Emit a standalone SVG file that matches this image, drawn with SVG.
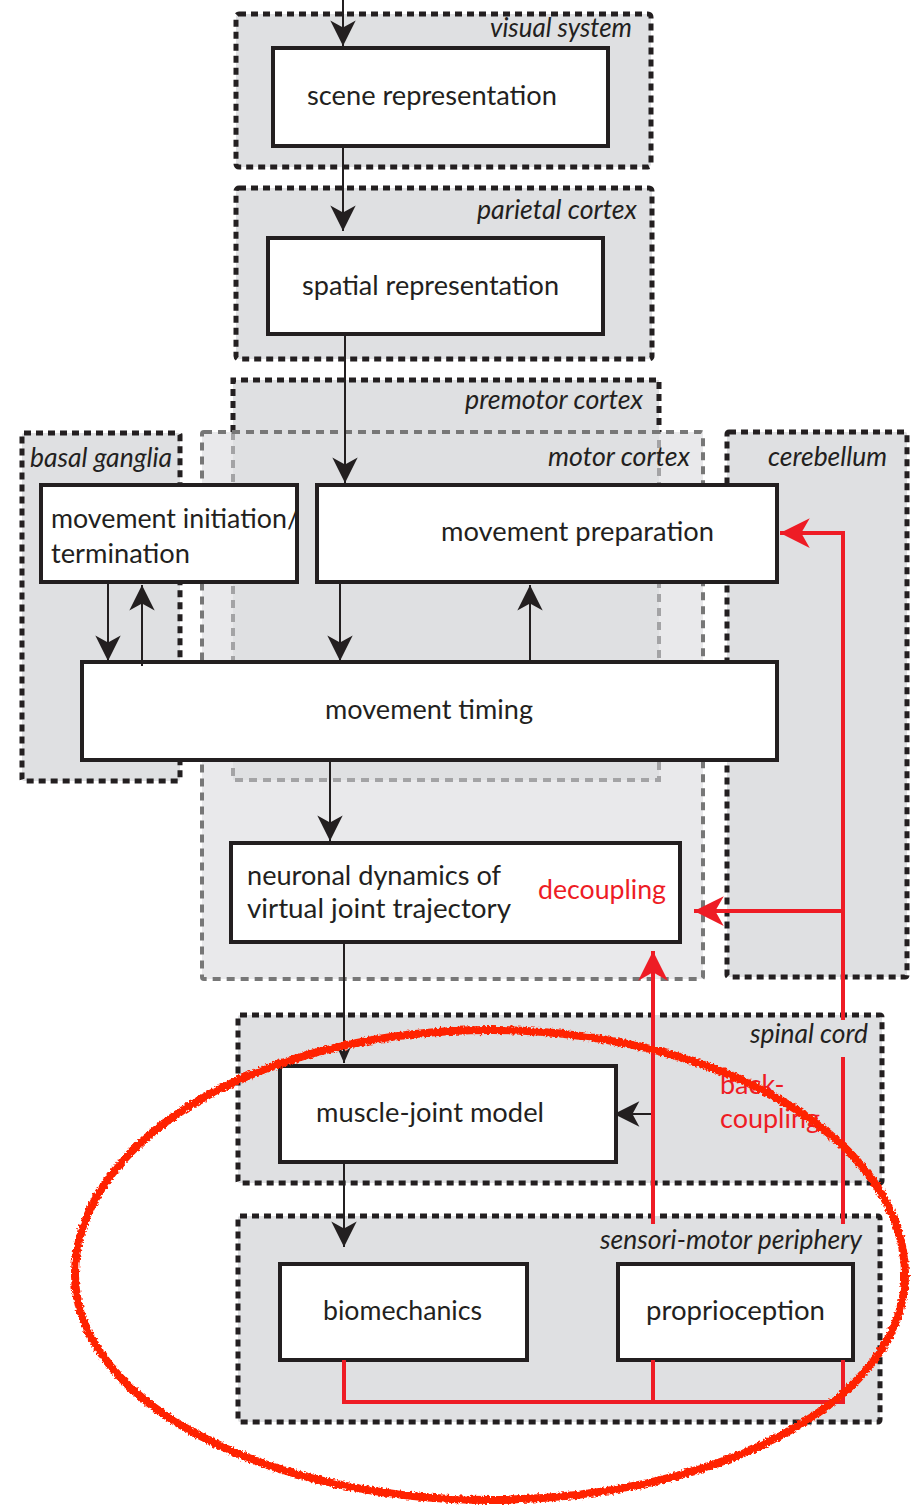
<svg xmlns="http://www.w3.org/2000/svg" width="916" height="1505" viewBox="0 0 916 1505">
<style>
.region{fill:#dfe0e2;stroke:#231f20;stroke-width:5;stroke-dasharray:7 5}
.node{fill:#fff;stroke:#231f20;stroke-width:4}
.t{font-family:Lato,"Liberation Sans",sans-serif;font-size:27px;fill:#231f20}
.lbl{font-family:Lato,"Liberation Sans",sans-serif;font-size:27px;font-style:italic;fill:#231f20}
.red{fill:#ee1c25}
.blk{stroke:#231f20;stroke-width:2;fill:none}
.rl{stroke:#ee1c25;stroke-width:4;fill:none}
</style>
<defs>
<marker id="ab" markerUnits="userSpaceOnUse" markerWidth="30" markerHeight="30" viewBox="-24 -12 26 24" refX="0" refY="0" orient="auto">
<path d="M0,0 L-22,-11 L-16,0 L-22,11 Z" fill="#231f20"/>
</marker>
<marker id="abs" markerUnits="userSpaceOnUse" markerWidth="20" markerHeight="20" viewBox="-16 -8 18 16" refX="0" refY="0" orient="auto">
<path d="M0,0 L-14,-6 L-10,0 L-14,6 Z" fill="#231f20"/>
</marker>
<marker id="ar" markerUnits="userSpaceOnUse" markerWidth="34" markerHeight="34" viewBox="-30 -15 32 30" refX="0" refY="0" orient="auto">
<path d="M0,0 L-28,-14 L-20,0 L-28,14 Z" fill="#ee1c25"/>
</marker>
<filter id="rough" x="-5%" y="-5%" width="110%" height="110%">
<feTurbulence type="fractalNoise" baseFrequency="0.4" numOctaves="2" seed="3" result="n"/>
<feDisplacementMap in="SourceGraphic" in2="n" scale="5" xChannelSelector="R" yChannelSelector="G"/>
</filter>
</defs>

<g id="regions">
<g id="visual-system">
<rect class="region" x="236" y="14" width="415" height="153" rx="3"/>
<text class="lbl" x="632" y="37" text-anchor="end" textLength="142" lengthAdjust="spacingAndGlyphs">visual system</text>
</g>
<g id="parietal-cortex">
<rect class="region" x="236" y="188" width="416" height="171" rx="3"/>
<text class="lbl" x="637" y="219" text-anchor="end" textLength="160" lengthAdjust="spacingAndGlyphs">parietal cortex</text>
</g>
<g id="motor-cortex">
<rect x="202" y="432" width="501" height="547" fill="#e9e9eb"/>
</g>
<g id="premotor-cortex">
<rect x="233" y="380" width="426" height="400" fill="#dfe0e2"/>
<path d="M233,432 V380 H659 V432" fill="none" stroke="#231f20" stroke-width="5" stroke-dasharray="7 5"/>
<path d="M233,432 V780 H659 V432" fill="none" stroke="#a3a3a5" stroke-width="4" stroke-dasharray="8 6"/>
<text class="lbl" x="643" y="409" text-anchor="end" textLength="178" lengthAdjust="spacingAndGlyphs">premotor cortex</text>
</g>
<g id="motor-cortex-outline">
<rect x="202" y="432" width="501" height="547" fill="none" stroke="#777" stroke-width="4" stroke-dasharray="8 6" rx="2"/>
<text class="lbl" x="690" y="466" text-anchor="end" textLength="142" lengthAdjust="spacingAndGlyphs">motor cortex</text>
</g>
<g id="basal-ganglia">
<rect class="region" x="22" y="433" width="158" height="348" rx="2"/>
<text class="lbl" x="30" y="467" textLength="142" lengthAdjust="spacingAndGlyphs">basal ganglia</text>
</g>
<g id="cerebellum">
<rect class="region" x="727" y="432" width="180" height="545" rx="2"/>
<text class="lbl" x="887" y="466" text-anchor="end" textLength="119" lengthAdjust="spacingAndGlyphs">cerebellum</text>
</g>
<g id="spinal-cord">
<rect class="region" x="238" y="1015" width="644" height="168" rx="2"/>
<text class="lbl" x="868" y="1043" text-anchor="end" textLength="118" lengthAdjust="spacingAndGlyphs">spinal cord</text>
</g>
<g id="sensori-motor-periphery">
<rect class="region" x="238" y="1216" width="642" height="206" rx="2"/>
<text class="lbl" x="862" y="1249" text-anchor="end" textLength="262" lengthAdjust="spacingAndGlyphs">sensori-motor periphery</text>
</g>
</g>

<g id="nodes">
<g id="scene-representation">
<rect class="node" x="273" y="48" width="335" height="98"/>
<text class="t" x="307" y="105" textLength="250" lengthAdjust="spacingAndGlyphs">scene representation</text>
</g>
<g id="spatial-representation">
<rect class="node" x="268" y="238" width="335" height="96"/>
<text class="t" x="302" y="295" textLength="257" lengthAdjust="spacingAndGlyphs">spatial representation</text>
</g>
<g id="movement-initiation">
<rect class="node" x="41" y="485" width="256" height="97"/>
<text class="t" x="51" y="528" textLength="248" lengthAdjust="spacingAndGlyphs">movement initiation/</text>
<text class="t" x="51" y="563" textLength="139" lengthAdjust="spacingAndGlyphs">termination</text>
</g>
<g id="movement-preparation">
<rect class="node" x="317" y="485" width="460" height="97"/>
<text class="t" x="441" y="541" textLength="273" lengthAdjust="spacingAndGlyphs">movement preparation</text>
</g>
<g id="movement-timing">
<rect class="node" x="82" y="662" width="695" height="98"/>
<text class="t" x="325" y="719" textLength="208" lengthAdjust="spacingAndGlyphs">movement timing</text>
</g>
<g id="neuronal-dynamics">
<rect class="node" x="231" y="843" width="449" height="99"/>
<text class="t" x="247" y="885" textLength="254" lengthAdjust="spacingAndGlyphs">neuronal dynamics of</text>
<text class="t" x="247" y="918" textLength="264" lengthAdjust="spacingAndGlyphs">virtual joint trajectory</text>
<text class="t red" x="538" y="899" textLength="128" lengthAdjust="spacingAndGlyphs">decoupling</text>
</g>
<g id="muscle-joint-model">
<rect class="node" x="280" y="1066" width="336" height="96"/>
<text class="t" x="316" y="1122" textLength="228" lengthAdjust="spacingAndGlyphs">muscle-joint model</text>
</g>
<g id="biomechanics">
<rect class="node" x="280" y="1264" width="247" height="96"/>
<text class="t" x="323" y="1320" textLength="159" lengthAdjust="spacingAndGlyphs">biomechanics</text>
</g>
<g id="proprioception">
<rect class="node" x="618" y="1264" width="235" height="96"/>
<text class="t" x="646" y="1320" textLength="179" lengthAdjust="spacingAndGlyphs">proprioception</text>
</g>
<g id="back-coupling-label">
<text class="t red" x="720" y="1094">back-</text>
<text class="t red" x="720" y="1128" textLength="100" lengthAdjust="spacingAndGlyphs">coupling</text>
</g>
</g>

<g id="connectors">
<path class="blk" d="M343,0 V46" marker-end="url(#ab)"/>
<path class="blk" d="M343,146 V231" marker-end="url(#ab)"/>
<path class="blk" d="M345,334 V483" marker-end="url(#ab)"/>
<path class="blk" d="M108,582 V661" marker-end="url(#ab)"/>
<path class="blk" d="M142,666 V585" marker-end="url(#ab)"/>
<path class="blk" d="M340,582 V661" marker-end="url(#ab)"/>
<path class="blk" d="M530,662 V585" marker-end="url(#ab)"/>
<path class="blk" d="M330,760 V841" marker-end="url(#ab)"/>
<path class="blk" d="M344,942 V1063" marker-end="url(#abs)"/>
<path class="blk" d="M344,1162 V1247" marker-end="url(#ab)"/>
<path class="blk" d="M653,1114 H614" marker-end="url(#ab)"/>
<path class="rl" d="M843,1020 V533 H780" marker-end="url(#ar)"/>
<path class="rl" d="M843,1224 V1057"/>
<path class="rl" d="M843,911 H694" marker-end="url(#ar)"/>
<path class="rl" d="M653,1224 V951" marker-end="url(#ar)"/>
<path class="rl" d="M344,1360 V1402 H843 V1360 M653,1360 V1402"/>
</g>

<g id="highlight-ellipse" filter="url(#rough)">
<path d="M75,1275 A415,245 0 0 1 905,1275 A415,225 0 0 1 75,1275 Z" fill="none" stroke="#ff2200" stroke-width="8"/>
</g>
</svg>
